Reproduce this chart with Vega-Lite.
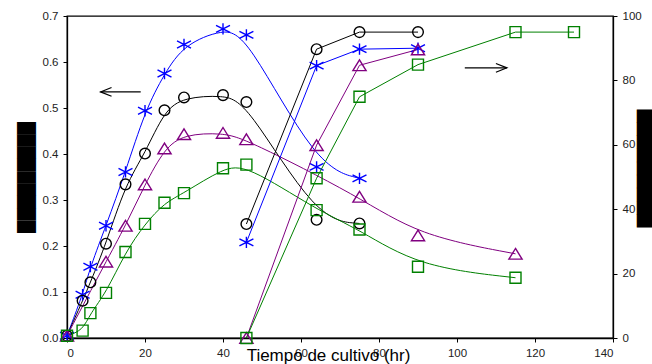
{
  "$schema": "https://vega.github.io/schema/vega-lite/v6.json",
  "width": 546,
  "height": 322,
  "autosize": "none",
  "padding": {"left": 67, "top": 16, "right": 39, "bottom": 26},
  "background": "white",
  "config": {
    "view": {"stroke": "black", "strokeWidth": 1.3},
    "axis": {
      "grid": false,
      "domainColor": "black",
      "domainWidth": 1.3,
      "tickColor": "black",
      "tickSize": 4,
      "labelPadding": 5,
      "labelFont": "Liberation Sans",
      "labelFontSize": 11.5,
      "labelColor": "#222222"
    }
  },
  "datasets": {
    "g": [
      {"s": "blue", "t": 0, "v": 0.005}, {"s": "blue", "t": 4, "v": 0.094}, {"s": "blue", "t": 6, "v": 0.155}, {"s": "blue", "t": 10, "v": 0.244}, {"s": "blue", "t": 15, "v": 0.361}, {"s": "blue", "t": 20, "v": 0.494}, {"s": "blue", "t": 25, "v": 0.575}, {"s": "blue", "t": 30, "v": 0.638}, {"s": "blue", "t": 40, "v": 0.672}, {"s": "blue", "t": 46, "v": 0.659}, {"s": "blue", "t": 64, "v": 0.372}, {"s": "blue", "t": 75, "v": 0.347},
      {"s": "black", "t": 0, "v": 0.005}, {"s": "black", "t": 4, "v": 0.081}, {"s": "black", "t": 6, "v": 0.121}, {"s": "black", "t": 10, "v": 0.205}, {"s": "black", "t": 15, "v": 0.334}, {"s": "black", "t": 20, "v": 0.401}, {"s": "black", "t": 25, "v": 0.495}, {"s": "black", "t": 30, "v": 0.523}, {"s": "black", "t": 40, "v": 0.528}, {"s": "black", "t": 46, "v": 0.513}, {"s": "black", "t": 64, "v": 0.257}, {"s": "black", "t": 75, "v": 0.249},
      {"s": "purple", "t": 0, "v": 0.005}, {"s": "purple", "t": 10, "v": 0.166}, {"s": "purple", "t": 15, "v": 0.244}, {"s": "purple", "t": 20, "v": 0.334}, {"s": "purple", "t": 25, "v": 0.412}, {"s": "purple", "t": 30, "v": 0.443}, {"s": "purple", "t": 40, "v": 0.446}, {"s": "purple", "t": 46, "v": 0.432}, {"s": "purple", "t": 75, "v": 0.307}, {"s": "purple", "t": 90, "v": 0.223}, {"s": "purple", "t": 115, "v": 0.183},
      {"s": "green", "t": 0, "v": 0.005}, {"s": "green", "t": 4, "v": 0.016}, {"s": "green", "t": 6, "v": 0.054}, {"s": "green", "t": 10, "v": 0.098}, {"s": "green", "t": 15, "v": 0.187}, {"s": "green", "t": 20, "v": 0.248}, {"s": "green", "t": 25, "v": 0.294}, {"s": "green", "t": 30, "v": 0.315}, {"s": "green", "t": 40, "v": 0.369}, {"s": "green", "t": 46, "v": 0.377}, {"s": "green", "t": 64, "v": 0.278}, {"s": "green", "t": 75, "v": 0.236}, {"s": "green", "t": 90, "v": 0.155}, {"s": "green", "t": 115, "v": 0.131}
    ],
    "p": [
      {"s": "black", "t": 46, "p": 35.4}, {"s": "black", "t": 64, "p": 89.7}, {"s": "black", "t": 75, "p": 95}, {"s": "black", "t": 90, "p": 95},
      {"s": "blue", "t": 46, "p": 29.7}, {"s": "blue", "t": 64, "p": 84.6}, {"s": "blue", "t": 75, "p": 89.7}, {"s": "blue", "t": 90, "p": 90},
      {"s": "purple", "t": 46, "p": 0}, {"s": "purple", "t": 64, "p": 59.9}, {"s": "purple", "t": 75, "p": 84.7}, {"s": "purple", "t": 90, "p": 89.6},
      {"s": "green", "t": 46, "p": 0}, {"s": "green", "t": 64, "p": 49.6}, {"s": "green", "t": 75, "p": 74.9}, {"s": "green", "t": 90, "p": 84.9}, {"s": "green", "t": 115, "p": 95}, {"s": "green", "t": 130, "p": 95}
    ]
  },
  "layer": [
    {
      "layer": [
        {
          "data": {"name": "g"},
          "mark": {"type": "line", "interpolate": "basis", "strokeWidth": 1},
          "encoding": {
            "x": {"field": "t", "type": "quantitative", "scale": {"domain": [0, 140]}, "axis": {"values": [0, 20, 40, 60, 80, 100, 120, 140], "title": "Tiempo de cultivo (hr)", "titleFont": "Liberation Sans", "titleFontSize": 17, "titleFontWeight": "normal", "titleColor": "black", "titleX": 261, "titleY": 22, "titleBaseline": "alphabetic", "titleAlign": "center"}},
            "y": {"field": "v", "type": "quantitative", "scale": {"domain": [0, 0.7]}, "axis": {"values": [0, 0.1, 0.2, 0.3, 0.4, 0.5, 0.6, 0.7], "format": ".1f", "title": "█████████", "titleFont": "DejaVu Sans", "titleFontSize": 16, "titleFontWeight": "normal", "titleColor": "black", "titleX": -41, "titleY": 161, "titleAngle": -90, "titleAlign": "center", "titleBaseline": "middle"}},
            "color": {"field": "s", "type": "nominal", "scale": {"domain": ["blue", "black", "purple", "green"], "range": ["#0000ff", "#000000", "#800080", "#008000"]}, "legend": null}
          }
        },
        {
          "data": {"name": "g"},
          "mark": {"type": "point", "filled": false, "strokeWidth": 1.4, "opacity": 1, "size": 121},
          "encoding": {
            "x": {"field": "t", "type": "quantitative"},
            "y": {"field": "v", "type": "quantitative"},
            "color": {"field": "s", "type": "nominal", "legend": null},
            "shape": {"field": "s", "type": "nominal", "scale": {"domain": ["blue", "black", "purple", "green"], "range": ["M0,-1.03L0,1.03M-1.27,-0.65L1.27,0.65M-1.27,0.65L1.27,-0.65", "M0.97,0A0.97,0.97 0 1,1 -0.97,0A0.97,0.97 0 1,1 0.97,0Z", "M0,-0.97L1.2,0.97L-1.2,0.97Z", "square"]}, "legend": null}
          }
        },
        {
          "data": {"values": [{"t": 8.6, "t2": 18.9, "v": 0.535}]},
          "mark": {"type": "rule", "color": "black", "strokeWidth": 1.2},
          "encoding": {
            "x": {"field": "t", "type": "quantitative"},
            "x2": {"field": "t2"},
            "y": {"field": "v", "type": "quantitative"}
          }
        },
        {
          "data": {"values": [{"t": 8.6, "v": 0.535}]},
          "mark": {"type": "point", "shape": "M1,-0.4L0,0L1,0.4", "size": 484, "filled": false, "color": "black", "strokeWidth": 1.2, "opacity": 1},
          "encoding": {
            "x": {"field": "t", "type": "quantitative"},
            "y": {"field": "v", "type": "quantitative"}
          }
        }
      ]
    },
    {
      "layer": [
        {
          "data": {"name": "p"},
          "mark": {"type": "line", "strokeWidth": 1},
          "encoding": {
            "x": {"field": "t", "type": "quantitative"},
            "y": {"field": "p", "type": "quantitative", "scale": {"domain": [0, 100]}, "axis": {"orient": "right", "values": [0, 20, 40, 60, 80, 100], "title": "█████████", "titleFont": "DejaVu Sans", "titleFontSize": 17, "titleFontWeight": "normal", "titleColor": "black", "titleX": 32, "titleY": 152, "titleAngle": 90, "titleAlign": "center", "titleBaseline": "middle"}},
            "color": {"field": "s", "type": "nominal", "legend": null}
          }
        },
        {
          "data": {"name": "p"},
          "mark": {"type": "point", "filled": false, "strokeWidth": 1.4, "opacity": 1, "size": 121},
          "encoding": {
            "x": {"field": "t", "type": "quantitative"},
            "y": {"field": "p", "type": "quantitative"},
            "color": {"field": "s", "type": "nominal", "legend": null},
            "shape": {"field": "s", "type": "nominal", "legend": null}
          }
        },
        {
          "data": {"values": [{"t": 102, "t2": 112.8, "p": 83.9}]},
          "mark": {"type": "rule", "color": "black", "strokeWidth": 1.2},
          "encoding": {
            "x": {"field": "t", "type": "quantitative"},
            "x2": {"field": "t2"},
            "y": {"field": "p", "type": "quantitative"}
          }
        },
        {
          "data": {"values": [{"t": 112.8, "p": 83.9}]},
          "mark": {"type": "point", "shape": "M-1,-0.4L0,0L-1,0.4", "size": 484, "filled": false, "color": "black", "strokeWidth": 1.2, "opacity": 1},
          "encoding": {
            "x": {"field": "t", "type": "quantitative"},
            "y": {"field": "p", "type": "quantitative"}
          }
        }
      ]
    }
  ],
  "resolve": {"scale": {"y": "independent"}}
}
